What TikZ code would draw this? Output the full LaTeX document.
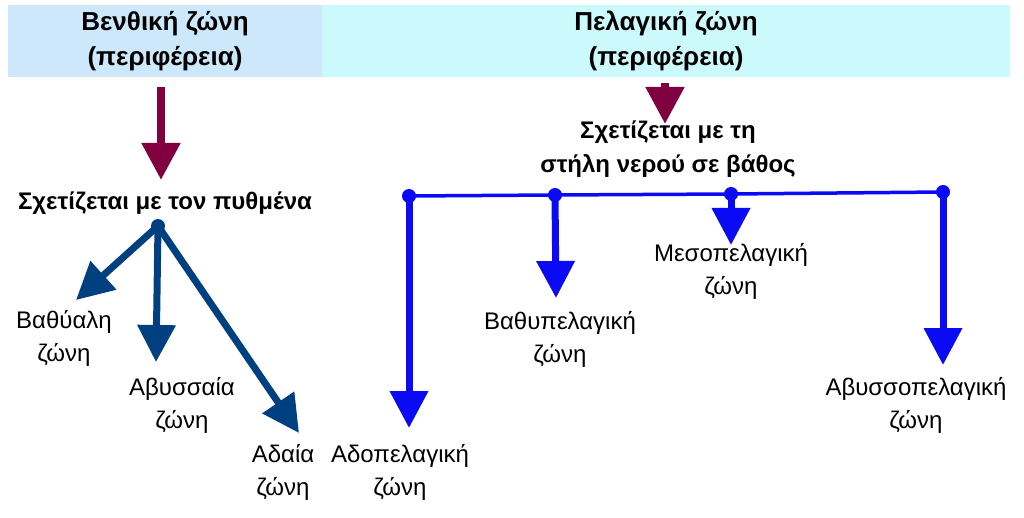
\documentclass[tikz,border=0pt]{standalone}
\usepackage{fontspec}
\setmainfont{Liberation Sans}
\usetikzlibrary{arrows.meta}
\definecolor{hdrL}{RGB}{204,232,250}
\definecolor{hdrR}{RGB}{204,250,252}
\definecolor{wine}{RGB}{128,0,64}
\definecolor{navyb}{RGB}{0,64,128}
\definecolor{vblue}{RGB}{10,10,245}
\begin{document}
\begin{tikzpicture}[x=1pt,y=-1pt,
 hdr/.style={inner sep=0pt, minimum height=72pt, align=center, font=\fontsize{26}{35}\selectfont\bfseries},
 lbl/.style={align=center, inner sep=0pt, font=\fontsize{24}{33}\selectfont},
 subt/.style={align=center, inner sep=0pt, font=\fontsize{24}{34}\selectfont\bfseries},
 bigarrow/.style={line width=8pt, -{Triangle[width=37pt,length=37pt]}},
 dotn/.style={circle, inner sep=0pt, minimum size=14pt}
]
\useasboundingbox (0,0) rectangle (1024,518);
% headers
\node[hdr, fill=hdrL, minimum width=314pt] (hL) at (165,41) {Βενθική ζώνη\\(περιφέρεια)};
\node[hdr, fill=hdrR, minimum width=688pt] (hR) at (666,41) {Πελαγική ζώνη\\(περιφέρεια)};
% subtitles
\node[subt] (sL) at (165,203) {Σχετίζεται με τον πυθμένα};
\node[subt] (sR) at (668,149) {Σχετίζεται με τη\\στήλη νερού σε βάθος};
% maroon arrows
\coordinate (mL1) at (161,87);
\coordinate (mL2) at (161,180);
\coordinate (mR1) at (665,83);
\coordinate (mR2) at (665,124);
\draw[bigarrow, wine] (mL1) -- (mL2);
\draw[bigarrow, wine] (mR1) -- (mR2);
% benthic
\node[dotn, fill=navyb] (bd) at (158,226) {};
\coordinate (t1) at (76,300);
\coordinate (t2) at (156,362);
\coordinate (t3) at (299,433);
\draw[bigarrow, navyb, line width=7pt] (bd.center) -- (t1);
\draw[bigarrow, navyb, line width=7pt] (bd.center) -- (t2);
\draw[bigarrow, navyb, line width=7pt] (bd.center) -- (t3);
\node[lbl] (l1) at (64,338) {Βαθύαλη\\ζώνη};
\node[lbl] (l2) at (182,405) {Αβυσσαία\\ζώνη};
\node[lbl] (l3) at (283,472) {Αδαία\\ζώνη};
% pelagic
\node[dotn, fill=vblue] (pa) at (409,196) {};
\node[dotn, fill=vblue] (pb) at (555,195) {};
\node[dotn, fill=vblue] (pc) at (731,194) {};
\node[dotn, fill=vblue] (pd) at (943,192) {};
\draw[vblue, line width=3.5pt] (pa.center) -- (pb.center) -- (pc.center) -- (pd.center);
\coordinate (u1) at (409,428);
\coordinate (u2) at (556,298);
\coordinate (u3) at (731,245);
\coordinate (u4) at (943,365);
\draw[bigarrow, vblue, line width=7pt] (pa.center) -- (u1);
\draw[bigarrow, vblue, line width=7pt] (pb.center) -- (u2);
\draw[bigarrow, vblue, line width=7pt] (pc.center) -- (u3);
\draw[bigarrow, vblue, line width=7pt] (pd.center) -- (u4);
\node[lbl] (m1) at (400,472) {Αδοπελαγική\\ζώνη};
\node[lbl] (m2) at (560,339) {Βαθυπελαγική\\ζώνη};
\node[lbl] (m3) at (731,271) {Μεσοπελαγική\\ζώνη};
\node[lbl] (m4) at (916,405) {Αβυσσοπελαγική\\ζώνη};
\end{tikzpicture}
\end{document}
